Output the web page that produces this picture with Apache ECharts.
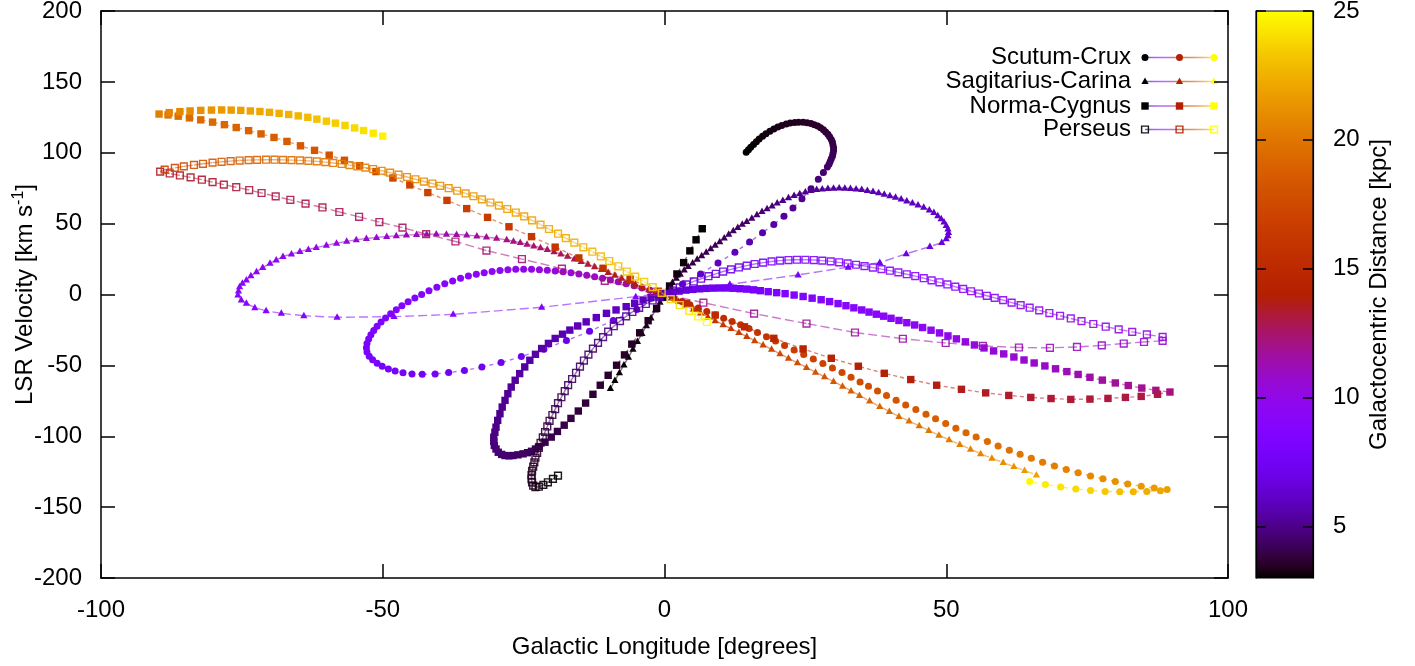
<!DOCTYPE html>
<html><head><meta charset="utf-8">
<script src="https://cdn.jsdelivr.net/npm/echarts@6/dist/echarts.min.js"></script>
<style>html,body{margin:0;padding:0;background:#fff}#c{width:1415px;height:666px}</style>
</head><body><div id="c"></div>
<script>
// ---------- DATA (longitude [deg], LSR velocity [km/s], galactocentric distance [kpc]) ----------
const armNames = ['Scutum-Crux', 'Sagitarius-Carina', 'Norma-Cygnus', 'Perseus'];
const xTicks = [-100, -50, 0, 50, 100];
const yTicks = [-200, -150, -100, -50, 0, 50, 100, 150, 200];
const cbTicks = [5, 10, 15, 20, 25];
const cbRange = [3, 25];

const scutumCrux = [
[14.5,100.4,3.0],[14.9,102.1,3.03],[15.3,103.8,3.05],[15.8,105.8,3.08],[16.3,107.8,3.1],[16.8,109.7,3.13],[17.4,111.6,3.15],[18,113.4,3.18],[18.7,115.2,3.2],[19.4,116.8,3.25],[20.1,118.2,3.3],[20.8,119.3,3.33],[21.6,120.3,3.35],[22.3,121,3.38],[23.1,121.4,3.4],[23.8,121.6,3.45],[24.6,121.5,3.5],[25.3,121.2,3.53],[26,120.6,3.55],[26.6,119.8,3.58],[27.2,118.8,3.6],[27.7,117.6,3.65],[28.2,116.2,3.7],[28.6,114.7,3.75],[29,113,3.8],[29.3,111.3,3.85],[29.6,109.4,3.9],[29.8,107.5,3.95],[29.9,105.5,4.0],[30,103.5,4.05],[30,101.5,4.1],[29.9,99.5,4.15],[29.8,97.6,4.2],[29.6,95.7,4.25],[29.4,93.8,4.3],[29.2,91.9,4.38],[28.9,90,4.45],[28.2,86,4.6],[27.3,81.3,4.75],[26,74.6,4.9],[24.4,67.6,5.05],[22.8,61,5.2],[21.2,55.2,5.35],[19.4,49.4,5.5],[17.4,43.6,5.6],[15.1,37,5.7],[12.5,29.8,5.85],[9.5,22.3,6.0],[6.4,14.5,6.15],[3.2,7.4,6.3],[-0.9,-1.6,6.45],[-4.9,-10.5,6.6],[-9.1,-18.3,6.75],[-13.3,-26,6.85],[-17.4,-32.5,6.95],[-21.4,-38.6,7.05],[-25.4,-43.8,7.15],[-29,-48,7.25],[-32.4,-51.2,7.35],[-35.5,-53.6,7.45],[-38.3,-55.1,7.5],[-40.7,-56,7.55],[-43,-56.3,7.6],[-44.8,-56,7.65],[-46.4,-55.2,7.7],[-47.8,-54,7.75],[-49,-52.5,7.8],[-50.1,-50.6,7.85],[-51,-48.5,7.9],[-51.8,-46.1,7.95],[-52.4,-43.5,8.0],[-52.8,-40.6,8.05],[-52.9,-37.6,8.1],[-52.8,-34.5,8.15],[-52.5,-31.4,8.2],[-52.1,-28.4,8.25],[-51.6,-25.4,8.3],[-51,-22.4,8.35],[-50.3,-19.4,8.4],[-49.5,-16.5,8.45],[-48.6,-13.6,8.5],[-47.6,-10.7,8.55],[-46.6,-7.9,8.6],[-45.5,-5.2,8.65],[-44.3,-2.5,8.7],[-43.1,0,8.75],[-41.8,2.6,8.8],[-40.4,5.1,8.9],[-39,7.5,9.0],[-37.6,9.6,9.1],[-36.2,11.4,9.2],[-34.8,13,9.3],[-33.4,14.3,9.4],[-32,15.4,9.5],[-30.6,16.3,9.6],[-29.2,17,9.7],[-27.8,17.5,9.8],[-26.4,17.8,9.9],[-25,17.9,10.0],[-23.6,17.8,10.1],[-22.2,17.5,10.2],[-20.8,17.1,10.3],[-19.4,16.6,10.4],[-18,16,10.5],[-16.6,15.3,10.6],[-15.2,14.5,10.7],[-13.8,13.6,10.8],[-12.4,12.6,10.9],[-11,11.5,11.0],[-9.6,10.3,11.15],[-8.2,9,11.3],[-6.8,7.6,11.45],[-5.4,6.1,11.6],[-4,4.6,11.75],[-2.6,3,11.9],[-1.2,1.4,12.3],[0.3,-0.4,13.2],[1.7,-2.6,14.0],[3.1,-4.9,14.4],[4.5,-7.2,14.7],[6,-9.6,14.9],[7.5,-12,15.1],[9,-14.5,15.3],[10.5,-16.8,15.45],[12,-19,15.6],[13.5,-21.4,15.75],[15,-24,15.9],[16.5,-26.8,16.05],[18.1,-29.8,16.2],[19.7,-32.8,16.35],[21.3,-35.9,16.5],[23,-39.1,16.65],[24.7,-42.3,16.8],[26.4,-45.5,16.95],[28.1,-48.7,17.1],[29.8,-51.9,17.25],[31.5,-55.1,17.4],[33.1,-58.4,17.55],[34.7,-61.7,17.7],[36.2,-64.8,17.85],[37.8,-68,18.0],[39.4,-71.3,18.1],[41.1,-74.6,18.2],[42.8,-77.9,18.3],[44.6,-81.2,18.45],[46.4,-84.5,18.6],[48.1,-87.7,18.75],[49.9,-91,18.9],[51.7,-94.3,19.05],[53.5,-97.5,19.2],[55.3,-100.6,19.35],[57.3,-103.7,19.5],[59.2,-106.8,19.65],[61.2,-109.9,19.8],[63.1,-112.7,19.95],[65.1,-115.5,20.1],[67.1,-118.3,20.25],[69.2,-120.9,20.4],[71.3,-123.4,20.55],[73.4,-125.8,20.7],[75.6,-128,20.85],[77.8,-130,21.0],[80,-131.9,21.15],[82.2,-133.6,21.3],[84.6,-135.2,21.45],[86.9,-136.5,21.6],[89.2,-137.5,21.8],[88,-138.4,22.1],[85.6,-138.9,22.4],[83.2,-139.1,22.7],[80.8,-139.1,23.0],[78.2,-138.9,23.3],[75.6,-138.2,23.6],[73,-137.2,23.9],[70.3,-135.8,24.2],[67.6,-134,24.5],[64.8,-132,24.8]
];

const sagitariusCarina = [
[-9.6,-66.4,3.0],[-8.8,-60.7,3.05],[-8,-55.2,3.1],[-7.2,-49.7,3.15],[-6.4,-44.2,3.2],[-5.6,-38.6,3.25],[-4.8,-33.1,3.3],[-4,-27.6,3.35],[-3.2,-22.1,3.4],[-2.4,-16.6,3.45],[-1.6,-11,3.5],[-0.8,-5.5,3.55],[0,0,3.6],[0.7,4.8,3.65],[1.4,8.5,3.7],[2.1,11.5,3.75],[2.8,14.2,3.8],[3.5,17.2,3.85],[4.2,19.8,3.9],[5,22.3,3.95],[5.8,24.8,4.0],[6.6,27.3,4.05],[7.4,29.8,4.1],[8.2,32.3,4.15],[9,34.8,4.2],[9.8,37.2,4.25],[10.6,39.8,4.3],[11.4,42.5,4.35],[12.2,45,4.4],[13,47.3,4.45],[13.8,49.5,4.5],[14.6,51.5,4.55],[15.5,53.8,4.6],[16.4,56.2,4.65],[17.3,58.5,4.7],[18.2,60.5,4.75],[19.1,62.5,4.8],[20,64.5,4.85],[21,66.4,4.9],[22,68.2,4.95],[23,69.8,5.0],[24,71.1,5.05],[25,72.3,5.1],[26,73.3,5.15],[27,74,5.2],[28,74.5,5.25],[29,74.8,5.3],[30,75,5.35],[31,75.1,5.4],[32,75,5.45],[33,74.8,5.5],[34,74.4,5.55],[35,74,5.6],[36,73.4,5.65],[37,72.6,5.7],[38,71.7,5.75],[39,70.8,5.8],[40,69.7,5.85],[41,68.6,5.9],[42,67.4,5.95],[43,66,6.0],[44,64.6,6.05],[45,63.1,6.1],[46,61.5,6.15],[47,59.7,6.2],[47.8,57.8,6.25],[48.5,55.6,6.3],[49.1,53.4,6.35],[49.6,51.1,6.4],[50,48.7,6.45],[50.3,46.2,6.5],[50.4,43.8,6.55],[50.3,41.4,6.6],[50,39.3,6.65],[49.2,36.6,6.7],[47.1,33.8,6.8],[42.9,28.7,7.0],[38.2,22.5,7.2],[32.6,19.3,7.4],[23.7,13.8,7.7],[11.6,7.2,8.0],[-5.1,-1.5,8.3],[-21.8,-9,8.5],[-37.5,-14,8.65],[-48,-15.6,8.75],[-58.1,-16.1,8.85],[-64,-15,8.9],[-68,-13.3,8.95],[-70.7,-11.5,9.0],[-72.7,-9.3,9.05],[-74.2,-6.2,9.1],[-75.1,-3.9,9.15],[-75.7,-0.4,9.2],[-75.6,2.5,9.25],[-75.4,5.5,9.3],[-74.9,8,9.35],[-74.2,10.3,9.4],[-73.4,13.2,9.45],[-72.4,16.1,9.5],[-71.3,19,9.55],[-70,22,9.6],[-68.9,24.4,9.65],[-67.7,26.8,9.7],[-66.2,28.6,9.8],[-64.7,30.3,9.9],[-63.2,31.8,10.0],[-61.8,33.1,10.1],[-60,34.7,10.2],[-58.2,36.2,10.3],[-56.4,37.5,10.4],[-54.7,38.6,10.5],[-52.9,39.5,10.6],[-51.1,40.2,10.7],[-49.3,40.9,10.8],[-47.6,41.4,10.9],[-45.8,41.9,11.0],[-44,42.3,11.1],[-42.2,42.5,11.2],[-40.5,42.6,11.3],[-38.7,42.5,11.4],[-36.9,42.3,11.5],[-35.1,41.9,11.6],[-33.3,41.3,11.7],[-31.6,40.5,11.8],[-29.8,39.6,11.9],[-28,38.6,12.0],[-26.8,37.6,12.1],[-25.6,36.6,12.2],[-24.4,35.5,12.3],[-23.2,34.3,12.4],[-22,33,12.5],[-20.8,31.7,12.6],[-19.6,30.2,12.7],[-18.4,28.6,12.8],[-17.2,26.9,12.9],[-16,25.1,13.0],[-14.8,23.3,13.1],[-13.6,21.4,13.2],[-12.4,19.5,13.3],[-11.2,17.6,13.4],[-10,15.6,13.5],[-8.8,13.6,13.6],[-7.6,11.5,13.7],[-6.4,9.4,13.8],[-5.2,7.3,13.9],[-4,5.3,14.0],[-2.8,3.4,14.2],[-1.6,1.8,14.4],[-0.4,0.2,14.6],[1.2,-2.4,14.9],[2.5,-5,15.1],[3.8,-7.7,15.3],[5.1,-10.4,15.5],[6.4,-13.1,15.7],[7.7,-15.8,15.9],[9,-18.5,16.1],[10.4,-21.3,16.3],[11.8,-24,16.5],[13.2,-26.8,16.7],[14.6,-29.7,16.9],[16,-32.6,17.05],[17.5,-35.6,17.2],[19,-38.7,17.35],[20.5,-41.8,17.5],[22,-45,17.65],[23.6,-48.2,17.8],[25.2,-51.5,17.95],[26.8,-54.8,18.1],[28.4,-58.1,18.25],[30,-61.4,18.4],[31.6,-64.7,18.55],[33.1,-68,18.7],[34.6,-71.2,18.85],[36.4,-75.2,19.0],[38.2,-79,19.15],[39.9,-82.5,19.3],[41.6,-86,19.45],[43.4,-89.3,19.6],[45.2,-92.6,19.75],[46.9,-95.9,19.9],[48.7,-99.3,20.05],[50.5,-102.5,20.2],[52.4,-105.8,20.35],[54.3,-109.1,20.5],[56.1,-112.4,20.7],[58.1,-115.5,20.9],[60.1,-118.6,21.1],[62,-121.4,21.3],[63.9,-124.2,21.6],[66,-127.3,22.0]
];

const normaCygnus = [
[6.7,46.4,3.0],[5.6,38.6,3.05],[4.5,30.8,3.1],[3.4,22.5,3.15],[2.2,14.5,3.2],[0.9,6,3.25],[-0.3,-2,3.3],[-1.4,-9.8,3.35],[-2.9,-18.5,3.4],[-4.4,-27,3.45],[-5.8,-35,3.5],[-7.1,-42.6,3.55],[-8.5,-49.9,3.6],[-10,-57,3.65],[-11.4,-64,3.7],[-12.7,-70.4,3.75],[-14,-76.6,3.8],[-15.3,-82.2,3.85],[-16.6,-87.4,3.9],[-17.8,-92.2,3.95],[-19,-96.6,4.0],[-20.1,-100.6,4.05],[-21.2,-104.2,4.1],[-22.3,-107.3,4.15],[-22.9,-109,4.2],[-23.6,-110.6,4.25],[-24.3,-111.6,4.3],[-25.1,-112.4,4.35],[-26,-113.1,4.4],[-26.9,-113.6,4.45],[-27.6,-113.8,4.5],[-28.3,-113.6,4.55],[-28.9,-112.8,4.6],[-29.5,-111.3,4.65],[-29.9,-109,4.7],[-30.2,-106.5,4.75],[-30.3,-103.6,4.8],[-30.3,-100.7,4.85],[-30.1,-97.2,4.9],[-29.9,-93.6,4.95],[-29.6,-88.8,5.0],[-29.2,-84.1,5.05],[-28.8,-79.4,5.1],[-28.3,-74.7,5.15],[-27.8,-70,5.2],[-27.2,-65.3,5.25],[-26.5,-60.5,5.3],[-25.7,-55.8,5.35],[-24.8,-51.1,5.4],[-23.9,-46.4,5.45],[-22.9,-42.2,5.5],[-21.8,-38.1,5.55],[-20.6,-34.5,5.6],[-19.4,-31,5.65],[-18.1,-28,5.7],[-16.8,-25.1,5.75],[-15.4,-22.2,5.8],[-13.9,-19.3,5.85],[-12.1,-16.3,5.9],[-10.3,-13.3,5.95],[-8.6,-10.9,6.0],[-6.8,-8.6,6.05],[-5.3,-6.2,6.1],[-3.8,-3.9,6.15],[-2.4,-2.2,6.2],[-1,-0.7,6.25],[0.2,0.6,6.3],[1.4,1.6,6.45],[2.6,2.4,6.6],[3.8,3.1,6.75],[5,3.6,6.9],[6.2,4,7.05],[7.4,4.3,7.2],[8.6,4.5,7.35],[9.8,4.6,7.5],[11,4.6,7.6],[12.2,4.4,7.7],[13.4,4.1,7.8],[14.6,3.8,7.9],[15.8,3.3,8.0],[17,2.7,8.1],[18.4,2,8.2],[19.9,1.3,8.3],[21.4,0.6,8.4],[23,-0.4,8.5],[24.6,-1.4,8.6],[26.2,-2.6,8.7],[27.8,-3.7,8.8],[29.3,-5,8.9],[30.8,-6.4,9.0],[32.2,-7.9,9.05],[33.6,-9.4,9.1],[35,-10.9,9.15],[36.3,-12.4,9.2],[37.6,-13.9,9.25],[38.9,-15.3,9.3],[40.2,-16.8,9.35],[41.6,-18.3,9.4],[43,-19.9,9.45],[44.4,-21.5,9.5],[45.8,-23.3,9.6],[47.3,-25.2,9.7],[48.8,-27.1,9.8],[50.3,-29.2,9.9],[51.8,-31.3,10.0],[53.4,-33.4,10.1],[55,-35.6,10.2],[56.7,-37.7,10.3],[58.4,-39.8,10.4],[60.2,-41.9,10.5],[62,-44.1,10.6],[63.8,-46.2,10.7],[65.6,-48.3,10.8],[67.5,-50.4,10.9],[69.4,-52.4,11.0],[71.4,-54.4,11.15],[73.4,-56.4,11.3],[75.5,-58.4,11.45],[77.7,-60.4,11.6],[80,-62.4,11.7],[82.3,-64.2,11.8],[84.7,-66,11.9],[87.2,-67.6,12.05],[89.7,-68.8,12.2],
[87.5,-70.4,13.0],[84.6,-71.9,13.05],[81.8,-72.6,13.1],[78.7,-73.3,13.15],[75.5,-73.8,13.2],[72.1,-74,13.25],[68.6,-73.4,13.3],[65,-72.6,13.35],[61.1,-71.2,13.45],[57,-69.4,13.55],[52.7,-66.9,13.65],[48.3,-64,13.75],[43.7,-60,13.85],[39,-55.6,14.0],[34.4,-50.6,14.15],[29.6,-45,14.3],[24.6,-38.4,14.45],[19.4,-30.9,14.6],[14.2,-22.8,14.8],[9,-14.5,15.0],[3.9,-6.3,15.2],[-1.1,2.3,15.4],[-6.1,10.8,15.6],[-10.9,18.5,15.75],[-15.2,25.8,15.9],[-19.4,33.4,16.05],[-23.6,40.8,16.2],[-27.6,47.8,16.35],[-31.4,54.4,16.5],[-35.1,60.6,16.65],[-38.6,66.4,16.8],[-42,71.9,16.95],[-45.2,77.3,17.1],[-48.2,82.2,17.3],[-51.2,86.7,17.5],[-54.1,90.9,17.7],[-56.8,94.7,17.9],[-59.5,98.3,18.1],[-62.1,101.7,18.3],[-64.6,104.9,18.45],[-67,108,18.6],[-69.3,110.8,18.75],[-71.6,113.3,18.9],[-73.8,115.6,19.0],[-76,117.8,19.1],[-78.1,119.8,19.2],[-80.2,121.6,19.3],[-82.3,123.2,19.4],[-84.3,124.6,19.5],[-86.3,125.8,19.6],[-88.1,126.7,19.75],
[-89.7,127.3,20.4],[-87.9,128.3,20.6],[-86,129,20.8],[-84.2,129.5,21.0],[-82.3,129.9,21.2],[-80.4,130.1,21.35],[-78.6,130.2,21.5],[-76.9,130.1,21.65],[-75.2,129.9,21.8],[-73.5,129.5,21.95],[-71.8,129.1,22.1],[-70.1,128.5,22.25],[-68.4,127.8,22.4],[-66.7,127,22.55],[-65,126,22.7],[-63.3,125,22.9],[-61.7,123.7,23.1],[-60,122.3,23.3],[-58.4,120.9,23.5],[-56.7,119.3,23.7],[-55,117.5,23.9],[-53.4,115.7,24.15],[-51.7,113.8,24.4],[-50,111.7,24.7]
];

const perseus = [
[-18.9,-127.8,3.0],[-19.8,-130.1,3.05],[-20.7,-132.5,3.1],[-21.5,-134.3,3.15],[-22.3,-135.6,3.2],[-22.9,-135.9,3.25],[-23.3,-134.8,3.3],[-23.5,-132.6,3.35],[-23.6,-130.2,3.4],[-23.6,-127.4,3.45],[-23.5,-124.4,3.5],[-23.3,-121.4,3.55],[-23.1,-118.4,3.6],[-22.9,-115.1,3.65],[-22.6,-111.7,3.7],[-22.3,-108.2,3.75],[-22,-104.6,3.8],[-21.6,-100.8,3.85],[-21.2,-97,3.9],[-20.8,-93.1,3.95],[-20.4,-89.1,4.0],[-19.9,-85,4.05],[-19.4,-80.9,4.1],[-18.9,-76.7,4.15],[-18.3,-72.5,4.2],[-17.7,-68.2,4.25],[-17.1,-63.9,4.3],[-16.4,-59.6,4.35],[-15.7,-55.2,4.4],[-15,-50.9,4.45],[-14.3,-46.6,4.5],[-13.5,-42.4,4.55],[-12.7,-38.2,4.6],[-11.8,-34.1,4.7],[-10.9,-30.1,4.8],[-10,-26.2,4.9],[-9,-22.4,5.0],[-7.9,-18.8,5.1],[-6.8,-15.4,5.2],[-5.7,-12.3,5.3],[-4.5,-9.4,5.4],[-3.3,-6.7,5.5],[-2.1,-4.2,5.6],[-0.9,-1.8,5.7],[0.3,0.5,5.8],[1.5,2.8,5.95],[2.7,5,6.1],[3.9,7.1,6.25],[5.2,9.2,6.4],[6.5,11.1,6.55],[7.8,12.9,6.7],[9.1,14.6,6.85],[10.4,16.2,7.0],[11.8,17.7,7.15],[13.2,19.1,7.3],[14.6,20.4,7.45],[16,21.5,7.6],[17.5,22.5,7.75],[19,23.3,7.9],[20.5,23.9,8.0],[22,24.3,8.1],[23.5,24.5,8.2],[25,24.5,8.3],[26.5,24.3,8.4],[28,23.9,8.5],[29.5,23.4,8.55],[31,22.7,8.6],[32.5,21.9,8.65],[34,21,8.7],[35.5,20,8.75],[37,19,8.8],[38.5,17.9,8.85],[40,16.8,8.9],[41.5,15.6,8.95],[43,14.3,9.0],[44.5,13,9.05],[46,11.5,9.1],[47.4,10,9.15],[48.8,8.6,9.2],[50.2,7.1,9.25],[51.6,5.5,9.3],[53,3.9,9.35],[54.4,2.3,9.4],[55.8,0.7,9.45],[57.2,-0.9,9.5],[58.6,-2.4,9.55],[60.1,-4,9.6],[61.6,-5.7,9.65],[63.2,-7.5,9.7],[64.8,-9.3,9.75],[66.5,-11.2,9.8],[68.3,-13.1,9.85],[70.2,-15,9.9],[72.1,-16.9,9.95],[74,-18.8,10.0],[76.1,-20.8,10.05],[78.3,-22.7,10.1],[80.6,-24.6,10.15],[83,-26.4,10.2],[85.6,-28.2,10.25],[88.4,-29.9,10.3],
[88.4,-32.7,10.6],[85.1,-33.5,10.7],[81.5,-34.6,10.8],[77.6,-35.9,10.9],[73.2,-37,11.0],[68.4,-37.6,11.1],[62.9,-37.4,11.2],[56.5,-36.3,11.3],[49.9,-34.2,11.4],[42.3,-31.2,11.5],[33.8,-26.8,11.6],[25.2,-20.5,11.7],[15.9,-13.5,11.8],[6.9,-5.8,11.9],[-1.9,1.9,12.0],[-10.6,9.6,12.1],[-18.2,18.2,12.2],[-25.3,25,12.3],[-31.6,31,12.4],[-37.1,37.4,12.5],[-42.3,42.6,12.6],[-46.5,47.2,12.65],[-50.6,51.1,12.7],[-54.2,54.8,12.75],[-57.7,58.2,12.8],[-60.7,61.4,12.85],[-63.7,64.1,12.9],[-66.4,66.8,12.95],[-69,69.2,13.0],[-71.5,71.6,13.05],[-73.7,73.7,13.1],[-76,75.7,13.15],[-78.2,77.5,13.2],[-80.2,79.3,13.25],[-82.1,81,13.3],[-84.1,82.6,13.35],[-86,84,13.4],[-87.8,85.4,13.45],[-89.5,86.7,13.5],
[-88.7,88.1,17.0],[-86.9,89.3,17.3],[-85.3,90.4,17.55],[-83.5,91.4,17.8],[-81.9,92.2,18.05],[-80.2,93,18.3],[-78.6,93.6,18.5],[-77,94.1,18.65],[-75.4,94.5,18.8],[-73.8,94.8,18.95],[-72.3,95,19.1],[-70.7,95.1,19.3],[-69.2,95.1,19.4],[-67.7,95,19.5],[-66.2,94.8,19.6],[-64.7,94.6,19.7],[-63.2,94.3,19.8],[-61.7,93.9,19.9],[-60.2,93.4,20.0],[-58.8,92.8,20.1],[-57.3,92.1,20.2],[-55.9,91.3,20.3],[-54.5,90.4,20.4],[-53.1,89.5,20.5],[-51.7,88.5,20.55],[-50.2,87.3,20.6],[-48.7,86,20.7],[-47.2,84.5,20.75],[-45.7,82.9,20.8],[-44.2,81.3,20.9],[-42.7,79.7,21.0],[-41.2,78.3,21.05],[-39.8,76.7,21.1],[-38.3,75,21.15],[-36.8,73.2,21.2],[-35.3,71.3,21.3],[-33.9,69.3,21.4],[-32.4,67.1,21.5],[-30.9,64.9,21.6],[-29.4,62.7,21.65],[-27.9,60.3,21.7],[-26.4,57.8,21.8],[-24.9,55.1,21.9],[-23.5,52.3,22.0],[-22,49.3,22.1],[-20.5,46.2,22.2],[-18.9,42.9,22.3],[-17.5,39.8,22.4],[-16,36.6,22.5],[-14.4,33.3,22.6],[-12.8,30.2,22.7],[-11.3,26.9,22.8],[-9.8,23.6,22.9],[-8.2,19.9,23.0],[-6.7,16.2,23.1],[-5.2,12.6,23.2],[-3.6,9,23.3],[-2.1,5.2,23.4],[-0.5,1.2,23.5],[1.1,-3.3,23.8],[2.7,-7.4,24.1],[4.4,-11.5,24.4],[6,-15.5,24.7],[7.5,-19.4,25.0]
];

// ---------- STYLE ----------
const FONT = 'Liberation Sans, Arial, Helvetica, sans-serif';
const arms = [scutumCrux, sagitariusCarina, normaCygnus, perseus];
const markerKinds = ['circle', 'triangle', 'square', 'openSquare'];
const dashes = [[4, 4], [9, 4], [4, 3], [9, 4]];

function pal(x) { // gnuplot default pm3d palette (rgbformulae 7,5,15)
  const r = Math.sqrt(x), g = x * x * x, b = Math.max(0, Math.sin(2 * Math.PI * x));
  return 'rgb(' + Math.round(255 * r) + ',' + Math.round(255 * g) + ',' + Math.round(255 * b) + ')';
}
const paletteColors = [];
for (let i = 0; i <= 48; i++) paletteColors.push(pal(i / 48));

function markerShape(kind, x, y, color) {
  if (kind === 'circle') return { type: 'circle', shape: { cx: x, cy: y, r: 3.5 }, style: { fill: color } };
  if (kind === 'triangle') return { type: 'polygon', shape: { points: [[x, y - 4], [x - 3.6, y + 2.5], [x + 3.6, y + 2.5]] }, style: { fill: color } };
  if (kind === 'square') return { type: 'rect', shape: { x: x - 3.7, y: y - 3.7, width: 7.4, height: 7.4 }, style: { fill: color } };
  return { type: 'rect', shape: { x: x - 3.4, y: y - 3.4, width: 6.8, height: 6.8 }, style: { fill: 'none', stroke: color, lineWidth: 1.4, opacity: 0.9 } };
}

function armSeries(idx) {
  const pts = arms[idx];
  const data = pts.map((p, i) => {
    const n = pts[Math.min(i + 1, pts.length - 1)];
    return [p[0], p[1], p[2], n[0], n[1]];
  });
  return {
    type: 'custom', name: armNames[idx], xAxisIndex: 0, yAxisIndex: 0, clip: true,
    encode: { x: 0, y: 1 }, data: data, z: 2 + idx,
    renderItem: function (params, api) {
      const a = api.coord([api.value(0), api.value(1)]);
      const b = api.coord([api.value(3), api.value(4)]);
      const color = api.visual('color');
      return {
        type: 'group',
        children: [
          { type: 'line', shape: { x1: a[0], y1: a[1], x2: b[0], y2: b[1] },
            style: { stroke: color, lineWidth: 1.4, lineDash: dashes[idx], opacity: 0.55 } },
          markerShape(markerKinds[idx], a[0], a[1], color)
        ]
      };
    }
  };
}

// legend drawn as graphic elements (gnuplot-style with gradient sample)
const legendRows = [57.5, 81.5, 106, 129.5];
const legendGraphics = [];
armNames.forEach((name, i) => {
  const y = legendRows[i];
  legendGraphics.push({ type: 'text', x: 1131, y: y, style: { text: name, fill: '#000', font: '24px ' + FONT, align: 'right', verticalAlign: 'middle' } });
  legendGraphics.push({ type: 'line', shape: { x1: 1145, y1: y, x2: 1214, y2: y },
    style: { stroke: new echarts.graphic.LinearGradient(0, 0, 1, 0, paletteColors.map((c, k) => ({ offset: k / (paletteColors.length - 1), color: c }))), lineWidth: 1.6, opacity: 0.6 } });
  [[1145, 0], [1179.5, 0.5], [1214, 1]].forEach(([x, f]) => {
    legendGraphics.push(markerShape(markerKinds[i], x, y, pal(f)));
  });
});

const axisBlack = { color: '#000', width: 1.5 };
const labelStyle = { color: '#000', fontSize: 24, fontFamily: FONT };

const option = {
  animation: false,
  backgroundColor: '#fff',
  grid: [
    { left: 101, right: 187, top: 11, bottom: 88, show: false, containLabel: false, outerBoundsMode: 'none' },
    { left: 1256, width: 57, top: 11, bottom: 88, show: false, containLabel: false, outerBoundsMode: 'none' }
  ],
  visualMap: {
    type: 'continuous', show: false, min: cbRange[0], max: cbRange[1], dimension: 2,
    seriesIndex: [0, 1, 2, 3], inRange: { color: paletteColors }
  },
  xAxis: [
    { type: 'value', gridIndex: 0, min: xTicks[0], max: xTicks[xTicks.length - 1], interval: 50, position: 'bottom',
      axisLine: { show: true, onZero: false, lineStyle: axisBlack },
      axisTick: { show: true, inside: true, length: 14, lineStyle: axisBlack },
      axisLabel: Object.assign({ margin: 20 }, labelStyle), splitLine: { show: false },
      name: 'Galactic Longitude [degrees]', nameLocation: 'middle', nameGap: 57, nameTextStyle: labelStyle },
    { type: 'value', gridIndex: 0, min: xTicks[0], max: xTicks[xTicks.length - 1], interval: 50, position: 'top',
      axisLine: { show: true, onZero: false, lineStyle: axisBlack },
      axisTick: { show: true, inside: true, length: 14, lineStyle: axisBlack },
      axisLabel: { show: false }, splitLine: { show: false } },
    { type: 'value', gridIndex: 1, min: 0, max: 1, show: false }
  ],
  yAxis: [
    { type: 'value', gridIndex: 0, min: yTicks[0], max: yTicks[yTicks.length - 1], interval: 50, position: 'left',
      axisLine: { show: true, onZero: false, lineStyle: axisBlack },
      axisTick: { show: true, inside: true, length: 14, lineStyle: axisBlack },
      axisLabel: Object.assign({ margin: 19 }, labelStyle), splitLine: { show: false },
      name: 'LSR Velocity [km s{sup|-1}]', nameLocation: 'middle', nameGap: 62, nameRotate: 90, nameMoveOverlap: false,
      nameTextStyle: Object.assign({ rich: { sup: { fontSize: 16, fontFamily: FONT, color: '#000', verticalAlign: 'top', lineHeight: 28 } } }, labelStyle) },
    { type: 'value', gridIndex: 0, min: yTicks[0], max: yTicks[yTicks.length - 1], interval: 50, position: 'right',
      axisLine: { show: true, onZero: false, lineStyle: axisBlack },
      axisTick: { show: true, inside: true, length: 14, lineStyle: axisBlack },
      axisLabel: { show: false }, splitLine: { show: false } },
    { type: 'value', gridIndex: 1, min: cbRange[0], max: cbRange[1], position: 'left', z: 10,
      axisLine: { show: true, onZero: false, lineStyle: { color: '#000', width: 1.2 } },
      axisTick: { show: true, inside: true, length: 10, customValues: cbTicks, lineStyle: axisBlack },
      axisLabel: { show: false }, splitLine: { show: false } },
    { type: 'value', gridIndex: 1, min: cbRange[0], max: cbRange[1], position: 'right', z: 10,
      axisLine: { show: true, onZero: false, lineStyle: { color: '#000', width: 1.2 } },
      axisTick: { show: true, inside: true, length: 10, customValues: cbTicks, lineStyle: axisBlack },
      axisLabel: Object.assign({ margin: 20, customValues: cbTicks }, labelStyle), splitLine: { show: false },
      name: 'Galactocentric Distance [kpc]', nameLocation: 'middle', nameGap: 54, nameRotate: 90, nameTextStyle: labelStyle }
  ],
  series: [
    armSeries(0), armSeries(1), armSeries(2), armSeries(3),
    { type: 'custom', xAxisIndex: 2, yAxisIndex: 3, z: 1, data: [[0, cbRange[0], 1, cbRange[1]]],
      renderItem: function (params, api) {
        const p0 = api.coord([api.value(0), api.value(3)]);
        const p1 = api.coord([api.value(2), api.value(1)]);
        const stops = paletteColors.map((c, k) => ({ offset: 1 - k / (paletteColors.length - 1), color: c }));
        stops.reverse();
        return { type: 'rect', shape: { x: p0[0], y: p0[1], width: p1[0] - p0[0], height: p1[1] - p0[1] },
          style: { fill: new echarts.graphic.LinearGradient(0, 0, 0, 1, stops), stroke: '#000', lineWidth: 1.2 } };
      } }
  ],
  graphic: legendGraphics
};

const chart = echarts.init(document.getElementById('c'), null, { renderer: 'canvas' });
chart.setOption(option);
</script>
</body></html>
